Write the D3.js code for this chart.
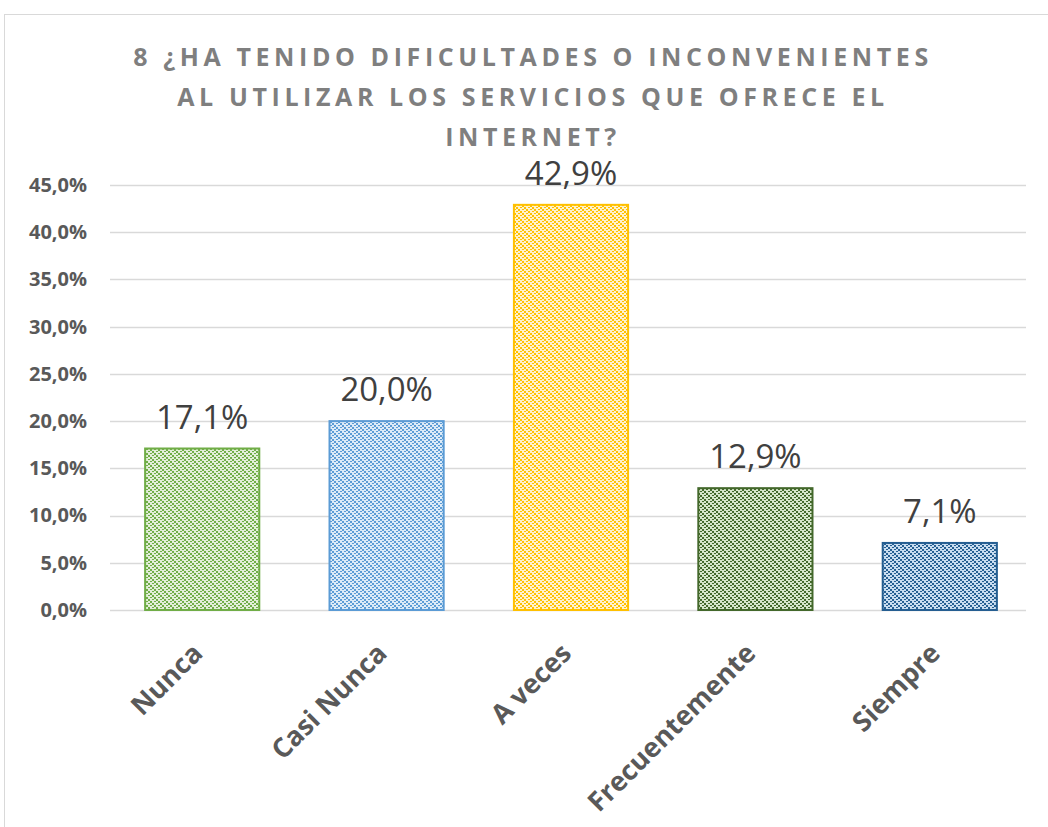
<!DOCTYPE html>
<html>
<head>
<meta charset="utf-8">
<script src="https://cdn.jsdelivr.net/npm/d3@7"></script>
<style>
  body { margin: 0; background: #fff; }
  svg { display: block; font-family: "Open Sans", sans-serif; }
</style>
</head>
<body>
<div id="frame"></div>
<script>
// data
let categories = ["Nunca", "Casi Nunca", "A veces", "Frecuentemente", "Siempre"];
let values = [17.1, 20.0, 42.9, 12.9, 7.1];
let yTicks = [0, 5, 10, 15, 20, 25, 30, 35, 40, 45];
let titleLines = ["8 ¿HA TENIDO DIFICULTADES O INCONVENIENTES", "AL UTILIZAR LOS SERVICIOS QUE OFRECE EL", "INTERNET?"];
let strokeColors = ["#70ad47", "#5b9bd5", "#ffc000", "#43682b", "#255e91"];
let bgColors = ["#e2efda", "#ddebf7", "#fff2cc", "#d6e6cb", "#c9ddf0"];

let W = 1048, H = 827;
let margin = { top: 185, right: 16, bottom: 217, left: 110 },
    width = W - margin.left - margin.right,
    height = H - margin.top - margin.bottom;

let svg = d3.select('#frame')
    .append('svg')
    .attr('width', W)
    .attr('height', H);

// outer chart border
svg.append('rect')
    .attr('x', 4.5).attr('y', 14.5)
    .attr('width', W + 10).attr('height', H + 10)
    .attr('fill', 'none')
    .attr('stroke', '#d9d9d9');

// patterns
let defs = svg.append('defs');
categories.forEach((c, i) => {
    let p = defs.append('pattern')
        .attr('id', 'pat' + i)
        .attr('patternUnits', 'userSpaceOnUse')
        .attr('width', 8).attr('height', 8);
    p.append('rect').attr('width', 8).attr('height', 8).attr('fill', bgColors[i]);
    let dots = [[0, 0], [2, 2], [4, 4], [6, 6], [4, 0], [6, 2], [0, 4], [2, 6]];
    dots.forEach((d, k) => {
        p.append('rect')
            .attr('x', d[0]).attr('y', d[1])
            .attr('width', 2).attr('height', k < 4 ? 2 : 1)
            .attr('fill', strokeColors[i]);
    });
});

// title
svg.append('g')
    .selectAll('text')
    .data(titleLines)
    .enter()
    .append('text')
    .attr('x', 533)
    .attr('y', (d, i) => 66 + i * 40)
    .attr('text-anchor', 'middle')
    .style('font-size', '25px')
    .style('font-weight', 'bold')
    .style('letter-spacing', '4.6px')
    .style('fill', '#7f7f7f')
    .text(d => d);

let g = svg.append('g')
    .attr('transform', 'translate(' + margin.left + ',' + margin.top + ')');

let x = d3.scaleBand()
    .domain(categories)
    .range([0, width])
    .paddingInner(0.37)
    .paddingOuter(0.185);

let y = d3.scaleLinear()
    .domain([0, 45])
    .range([height, 0]);

// gridlines
g.append('g')
    .selectAll('line')
    .data(yTicks)
    .enter()
    .append('line')
    .attr('x1', 0).attr('x2', width - 6)
    .attr('y1', d => Math.round(y(d)) + 0.5)
    .attr('y2', d => Math.round(y(d)) + 0.5)
    .attr('stroke', '#d9d9d9')
    .attr('stroke-width', 1.3);

// y axis labels
let yAxis = g.append('g')
    .call(d3.axisLeft(y).tickValues(yTicks).tickSize(0).tickPadding(23)
        .tickFormat(d => d.toFixed(1).replace('.', ',') + '%'));
yAxis.select('.domain').remove();
yAxis.selectAll('text')
    .style('font-size', '20px')
    .style('font-weight', 'bold')
    .style('font-family', '"Open Sans", sans-serif')
    .style('fill', '#595959');

// bars
g.append('g')
    .selectAll('rect')
    .data(values)
    .enter()
    .append('rect')
    .attr('x', (d, i) => x(categories[i]) + 1)
    .attr('y', d => y(d))
    .attr('width', x.bandwidth() - 2)
    .attr('height', d => height - y(d))
    .attr('fill', (d, i) => 'url(#pat' + i + ')')
    .attr('stroke', (d, i) => strokeColors[i])
    .attr('stroke-width', 2);

// data labels
g.append('g')
    .selectAll('text')
    .data(values)
    .enter()
    .append('text')
    .attr('x', (d, i) => x(categories[i]) + x.bandwidth() / 2)
    .attr('y', d => y(d) - 20)
    .attr('text-anchor', 'middle')
    .style('font-size', '33px')
    .style('fill', '#404040')
    .text(d => d.toFixed(1).replace('.', ',') + '%');

// x labels, rotated
g.append('g')
    .selectAll('text')
    .data(categories)
    .enter()
    .append('text')
    .attr('transform', d => 'translate(' + (x(d) + x.bandwidth() / 2 + 2) + ',' + (height + 45) + ') rotate(-45)')
    .attr('text-anchor', 'end')
    .style('font-size', '27px')
    .style('font-weight', 'bold')
    .style('fill', '#595959')
    .text(d => d);
</script>
</body>
</html>
